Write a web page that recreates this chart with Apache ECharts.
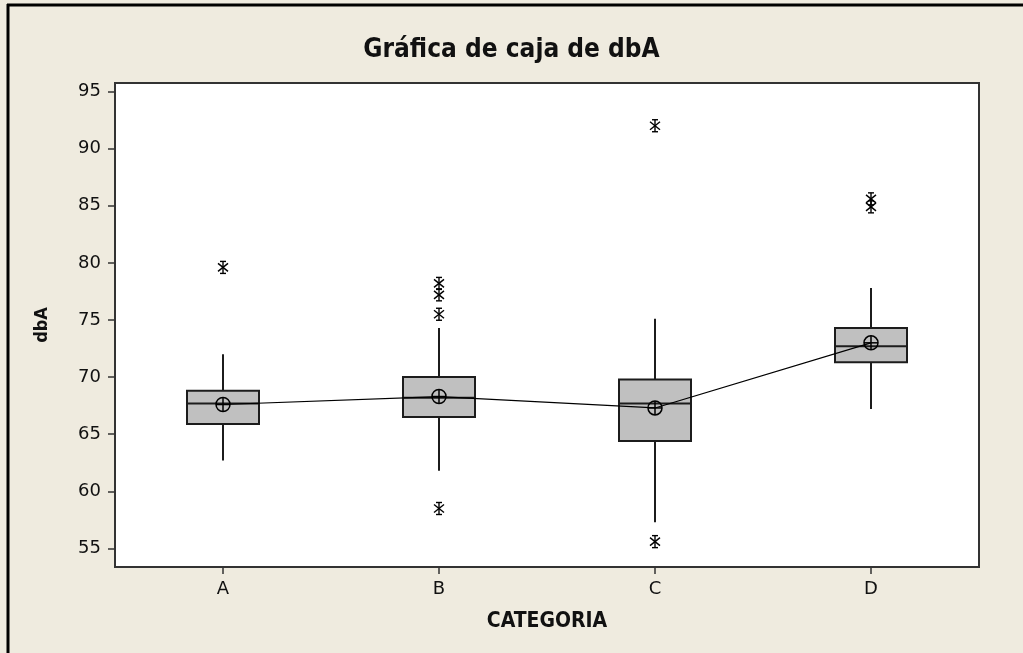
<!DOCTYPE html>
<html>
<head>
<meta charset="utf-8">
<title>Gráfica de caja de dbA</title>
<script src="https://cdn.jsdelivr.net/npm/echarts@6/dist/echarts.min.js"></script>
<style>
  html, body { margin: 0; padding: 0; background: #efebdf; }
  #chart { width: 1023px; height: 653px; }
</style>
</head>
<body>
<div id="chart"></div>
<script>
// Categories on the x axis
const categories = ['A', 'B', 'C', 'D'];

// Box statistics per category (dbA)
const whiskerLow  = [62.7, 61.8, 57.3, 67.2];
const q1          = [65.9, 66.5, 64.4, 71.3];
const median      = [67.7, 68.2, 67.7, 72.7];
const q3          = [68.8, 70.0, 69.8, 74.3];
const whiskerHigh = [72.0, 74.3, 75.1, 77.8];

// Mean per category, joined by a line
const means = [67.6, 68.3, 67.3, 73.0];

// Outliers: [category index, value]
const outliers = [
  [0, 79.6],
  [1, 78.2], [1, 77.2], [1, 75.5], [1, 58.5],
  [2, 92.0], [2, 55.6],
  [3, 85.6], [3, 84.9]
];

// Y axis tick labels
const yTicks = [55, 60, 65, 70, 75, 80, 85, 90, 95];

const INK = '#1c1c1c';
const FONT = 'Tahoma, "DejaVu Sans", sans-serif';
const BOLD_FONT = '"DejaVu Sans Condensed", "DejaVu Sans", sans-serif';

const boxData = categories.map((c, i) =>
  [i, whiskerLow[i], q1[i], median[i], q3[i], whiskerHigh[i]]);

function renderBox(params, api) {
  const i = api.value(0);
  const band = api.size([1, 0])[0];
  const hw = band / 6;
  const pLo = api.coord([i, api.value(1)]);
  const pQ1 = api.coord([i, api.value(2)]);
  const pMed = api.coord([i, api.value(3)]);
  const pQ3 = api.coord([i, api.value(4)]);
  const pHi = api.coord([i, api.value(5)]);
  const x = pQ1[0];
  const lineStyle = { stroke: INK, lineWidth: 2 };
  return {
    type: 'group',
    children: [
      { type: 'line', shape: { x1: x, y1: pLo[1], x2: x, y2: pQ1[1] }, style: lineStyle },
      { type: 'line', shape: { x1: x, y1: pQ3[1], x2: x, y2: pHi[1] }, style: lineStyle },
      { type: 'rect', shape: { x: x - hw, y: pQ3[1], width: hw * 2, height: pQ1[1] - pQ3[1] },
        style: { fill: '#c0c0c0', stroke: INK, lineWidth: 2 } },
      { type: 'line', shape: { x1: x - hw, y1: pMed[1], x2: x + hw, y2: pMed[1] }, style: lineStyle }
    ]
  };
}

function renderMean(params, api) {
  const p = api.coord([api.value(0), api.value(1)]);
  const r = 7;
  const st = { stroke: '#000', lineWidth: 1.5, fill: 'none' };
  return {
    type: 'group',
    children: [
      { type: 'circle', shape: { cx: p[0], cy: p[1], r: r }, style: st },
      { type: 'line', shape: { x1: p[0] - r, y1: p[1], x2: p[0] + r, y2: p[1] }, style: st },
      { type: 'line', shape: { x1: p[0], y1: p[1] - r, x2: p[0], y2: p[1] + r }, style: st }
    ]
  };
}

function renderStar(params, api) {
  const p = api.coord([api.value(0), api.value(1)]);
  const x = p[0], y = p[1];
  const st = { stroke: '#000', lineWidth: 1.4 };
  return {
    type: 'group',
    children: [
      { type: 'line', shape: { x1: x, y1: y - 6, x2: x, y2: y + 6 }, style: st },
      { type: 'line', shape: { x1: x - 5, y1: y - 4, x2: x + 5, y2: y + 4 }, style: st },
      { type: 'line', shape: { x1: x - 5, y1: y + 4, x2: x + 5, y2: y - 4 }, style: st },
      { type: 'line', shape: { x1: x - 3, y1: y - 6, x2: x + 3, y2: y - 6 }, style: st },
      { type: 'line', shape: { x1: x - 3, y1: y + 6, x2: x + 3, y2: y + 6 }, style: st }
    ]
  };
}

const chart = echarts.init(document.getElementById('chart'), null, { renderer: 'canvas' });

chart.setOption({
  backgroundColor: '#efebdf',
  animation: false,
  title: {
    text: 'Gráfica de caja de dbA',
    left: 'center',
    top: 32,
    textStyle: { fontFamily: BOLD_FONT, fontWeight: 'bold', fontSize: 26, color: '#111' }
  },
  graphic: [
    { type: 'line', shape: { x1: 8, y1: 4, x2: 8, y2: 653 }, style: { stroke: '#000', lineWidth: 3 } },
    { type: 'line', shape: { x1: 7, y1: 5, x2: 1023, y2: 5 }, style: { stroke: '#000', lineWidth: 3 } }
  ],
  grid: {
    left: 115, right: 44, top: 83, bottom: 86,
    show: true,
    backgroundColor: '#ffffff',
    borderColor: '#333',
    borderWidth: 2
  },
  xAxis: {
    type: 'category',
    data: categories,
    boundaryGap: true,
    name: 'CATEGORIA',
    nameLocation: 'middle',
    nameGap: 44,
    nameTextStyle: { fontFamily: BOLD_FONT, fontWeight: 'bold', fontSize: 21, color: '#111' },
    axisLine: { show: true, lineStyle: { color: '#333', width: 2 } },
    axisTick: { show: true, alignWithLabel: true, length: 7, lineStyle: { color: '#333', width: 1.5 } },
    axisLabel: { fontFamily: FONT, fontSize: 18, color: '#111', margin: 13 },
    splitLine: { show: false }
  },
  yAxis: {
    type: 'value',
    min: 53.38,
    max: 95.74,
    name: 'dbA',
    nameLocation: 'middle',
    nameGap: 64,
    nameRotate: 90,
    nameTextStyle: { fontFamily: BOLD_FONT, fontWeight: 'bold', fontSize: 18, color: '#111' },
    axisLine: { show: true, lineStyle: { color: '#333', width: 2 } },
    axisTick: { show: true, length: 7, customValues: yTicks, lineStyle: { color: '#333', width: 1.5 } },
    axisLabel: { fontFamily: FONT, fontSize: 18, color: '#111', margin: 14, customValues: yTicks },
    splitLine: { show: false }
  },
  series: [
    {
      type: 'custom',
      name: 'caja',
      renderItem: renderBox,
      encode: { x: 0, y: [1, 2, 3, 4, 5] },
      data: boxData,
      z: 2
    },
    {
      type: 'line',
      name: 'media',
      data: means,
      symbol: 'none',
      lineStyle: { color: '#000', width: 1.2 },
      z: 3
    },
    {
      type: 'custom',
      name: 'media símbolo',
      renderItem: renderMean,
      encode: { x: 0, y: 1 },
      data: means.map((m, i) => [i, m]),
      z: 4
    },
    {
      type: 'custom',
      name: 'atípicos',
      renderItem: renderStar,
      encode: { x: 0, y: 1 },
      data: outliers,
      z: 4
    }
  ]
});
</script>
</body>
</html>
